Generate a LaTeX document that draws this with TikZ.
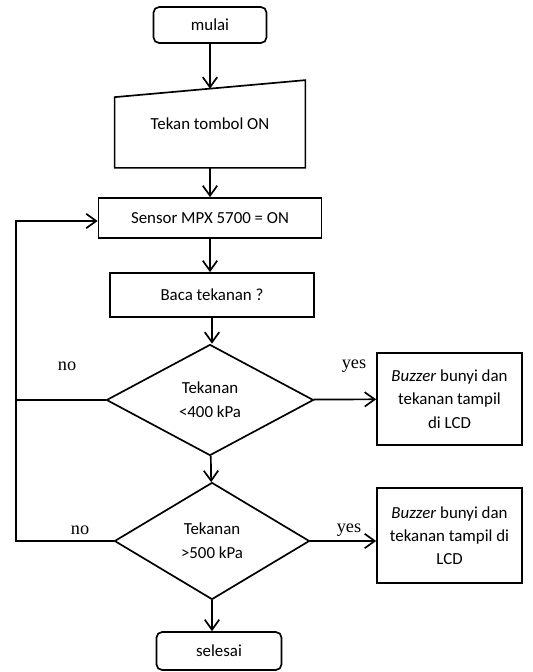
\documentclass[tikz,border=0pt]{standalone}
\usepackage{fontspec}
\setmainfont{Carlito}
\newfontfamily\answerfont{Liberation Serif}
\usepackage{tikz}
\usetikzlibrary{shapes,arrows.meta,calc}

\begin{document}
\begin{tikzpicture}[x=0.025cm, y=-0.025cm,
	procbox/.style={draw, line width=1.2pt, font=\fontsize{12}{16.5}\selectfont, inner sep=0, align=center},
	termbox/.style={procbox, rounded corners=4pt},
	decbox/.style={diamond, draw, line width=1.2pt, font=\fontsize{12}{17}\selectfont, inner sep=0, align=center},
	answer/.style={font=\answerfont\fontsize{13}{15}\selectfont, inner sep=0},
	flow/.style={line width=1.2pt, -{Straight Barb[length=2.5mm,width=3.6mm]}}
]
\useasboundingbox (0,0) rectangle (533,672);

\node[termbox, minimum width=2.825cm, minimum height=0.9cm] (mulai) at (210,25) {mulai};
\node[procbox, draw=none, minimum width=4.725cm, minimum height=2.15cm] (tombol) at (210,124) {Tekan tombol ON};
\node[procbox, minimum width=5.575cm, minimum height=1cm] (sensor) at (210,218) {Sensor MPX 5700 = ON};
\node[procbox, minimum width=5.1cm, minimum height=1.1cm] (baca) at (212,295) {Baca tekanan ?};
\node[decbox, minimum width=5.175cm, minimum height=2.775cm] (cek1) at (210,400) {Tekanan\\<400 kPa};
\node[decbox, minimum width=4.875cm, minimum height=2.925cm] (cek2) at (212,541) {Tekanan\\>500 kPa};
\node[procbox, minimum width=3.625cm, minimum height=2.3cm] (lcd1) at (449.5,399) {\textit{Buzzer} bunyi dan\\tekanan tampil\\di LCD};
\node[procbox, minimum width=3.625cm, minimum height=2.375cm] (lcd2) at (449.5,535.5) {\textit{Buzzer} bunyi dan\\tekanan tampil di\\LCD};
\node[termbox, minimum width=3.125cm, minimum height=0.95cm] (selesai) at (219,651) {selesai};

% manual input shape
\draw[line width=1.2pt] ($(tombol.north west)+(0,17)$) -- (tombol.north east) -- (tombol.south east) -- (tombol.south west) -- cycle;
\coordinate (tombolin) at ($(tombol.north)+(0,8.5)$);
\coordinate (loop) at (16,221);

\node[answer] (no1) at (67,366) {no};
\node[answer] (yes1) at (354,366) {yes};
\node[answer] (no2) at (80,530) {no};
\node[answer] (yes2) at (349,530) {yes};

\draw[flow] (mulai) -- (tombolin);
\draw[flow] (tombol) -- (sensor);
\draw[flow] (sensor) -- (sensor |- baca.north);
\draw[flow] (baca) -- (baca.south |- cek1.north);
\draw[flow] (cek1) -- (cek2);
\draw[flow] (cek2) -- (cek2.south |- selesai.north);
\draw[flow] (cek1) -- (lcd1);
\draw[flow] (cek2.east) -- (lcd2.west |- cek2.east);

\draw[flow] (cek2.west) -- (loop |- cek2.west) -- (loop) -- (sensor.west |- loop);
\draw[line width=1.2pt] (cek1.west) -- (loop |- cek1.west);
\end{tikzpicture}
\end{document}
